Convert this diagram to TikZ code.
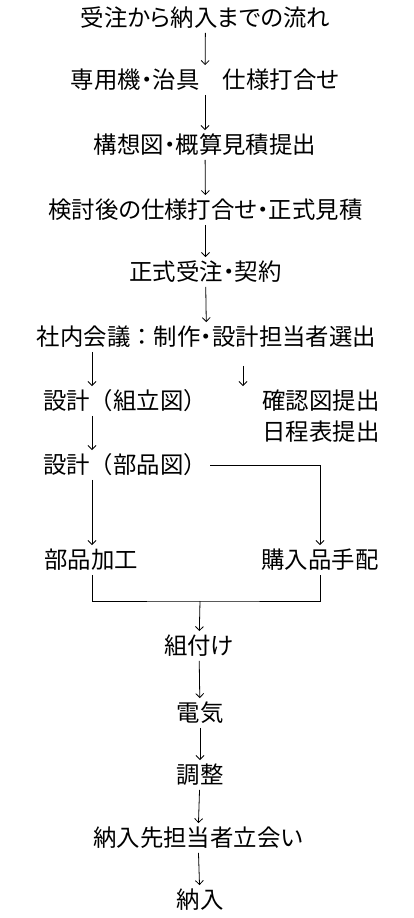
\documentclass[tikz,border=0pt]{standalone}
\usepackage{fontspec}
\setmainfont{Noto Sans CJK JP}[RawFeature=+palt]
\newfontfamily\fwfont{Noto Sans CJK JP}
\newcommand{\fw}[1]{{\fwfont #1}}
\usetikzlibrary{arrows.meta,calc}
\begin{document}
\begin{tikzpicture}[x=1pt,y=-1pt,
  lbl/.style={inner sep=3pt,text height=20.5pt,text depth=3pt,font=\fontsize{23.4}{26}\selectfont},
  arr/.style={-{Straight Barb[length=4pt,width=8pt]}, line width=0.8pt},
  ln/.style={line width=0.8pt}]
\useasboundingbox (0,0) rectangle (413,918);
\node[lbl] (t0) at (205.5,18) {受注から納入までの流れ};
\node[lbl] (t1) at (205,80) {専用機・治具　仕様打合せ};
\node[lbl] (t2) at (205,145) {構想図・概算見積提出};
\node[lbl] (t3) at (205.5,210) {検討後の仕様打合せ・正式見積};
\node[lbl] (t4) at (205.5,272) {正式受注・契約};
\node[lbl] (t5) at (206.5,337) {社内会議\fw{：}制作・設計担当者選出};
\node[lbl] (t6) at (125,401) {設計\fw{（}組立図\fw{）}};
\node[lbl] (t6b) at (321,401) {確認図提出};
\node[lbl] (t6c) at (321,432) {日程表提出};
\node[lbl] (t7) at (125,465) {設計\fw{（}部品図\fw{）}};
\node[lbl] (t8) at (91,560) {部品加工};
\node[lbl] (t8b) at (320,560) {購入品手配};
\node[lbl] (t9) at (199,646) {組付け};
\node[lbl] (t10) at (200,713) {電気};
\node[lbl] (t11) at (200,775) {調整};
\node[lbl] (t12) at (198,838) {納入先担当者立会い};
\node[lbl] (t13) at (200,900) {納入};
\coordinate (xl) at (92,0);
\coordinate (xr) at (243,0);
\coordinate (j) at (200,601);
\draw[arr] (t0) -- (t1);
\draw[arr] (t1) -- (t2);
\draw[arr] (t2) -- (t3);
\draw[arr] (t3) -- (t4);
\draw[arr] (t4) -- (t5);
\draw[arr] (t5.south -| xl) -- (t6.north -| xl);
\draw[arr,shorten <=14pt] (t5.south -| xr) -- (t6b.north -| xr);
\draw[arr] (t6.south -| xl) -- (t7.north -| xl);
\draw[arr] (t7.south -| xl) -- (t8.north -| xl);
\draw[arr] (t7.east) -| (t8b.north);
\draw[ln] (t8.south -| xl) |- (j) -| (t8b.south);
\draw[arr] (j) -- (t9);
\draw[arr] (t9) -- (t10);
\draw[arr] (t10) -- (t11);
\draw[arr] (t11) -- (t12);
\draw[arr] (t12) -- (t13);
\end{tikzpicture}
\end{document}
